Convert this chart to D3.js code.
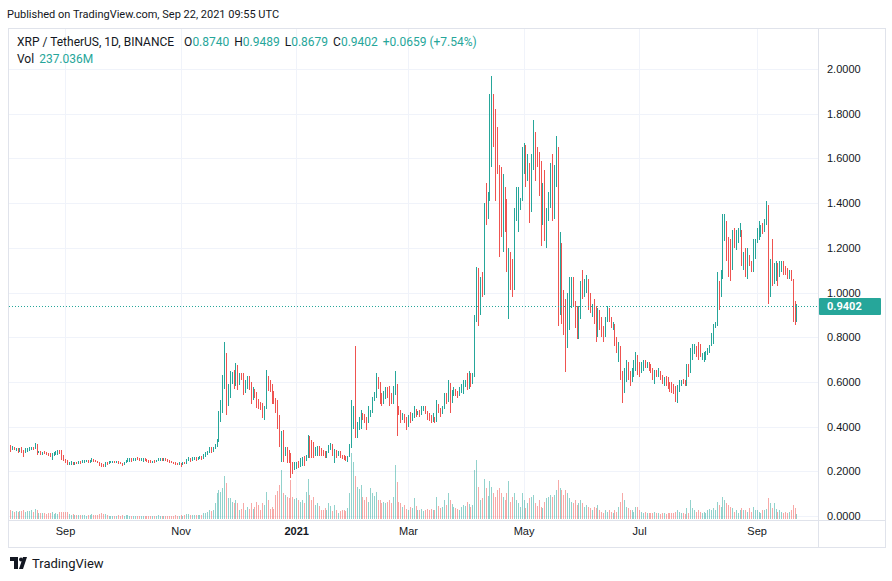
<!DOCTYPE html>
<html><head><meta charset="utf-8">
<script src="https://cdn.jsdelivr.net/npm/d3@7"></script>
<style>
body{margin:0;background:#fff;}
svg{display:block;font-family:Roboto,"DejaVu Sans",sans-serif;}
</style></head><body>
<svg id="c" width="892" height="581"></svg>
<script>
// ---- DATA: daily candles [high, low, close, volume(M)], open = previous close ----
const m2020_08 = [[0.318,0.285,0.297,430],[0.312,0.295,0.308,360],[0.310,0.296,0.300,330],[0.305,0.290,0.302,360],[0.303,0.280,0.288,330],[0.303,0.286,0.300,360],[0.307,0.284,0.292,360],[0.296,0.265,0.280,400],[0.303,0.280,0.298,340],[0.303,0.288,0.300,360],[0.307,0.292,0.305,360],[0.310,0.296,0.309,400],[0.310,0.296,0.302,340],[0.325,0.300,0.318,470],[0.320,0.273,0.285,440],[0.292,0.280,0.290,290],[0.292,0.273,0.282,260],[0.288,0.273,0.284,260],[0.290,0.276,0.280,260],[0.288,0.273,0.276,220],[0.283,0.268,0.272,260],[0.280,0.265,0.268,290],[0.280,0.250,0.276,330],[0.288,0.270,0.284,220],[0.290,0.272,0.286,260],[0.295,0.275,0.292,250],[0.296,0.278,0.282,340],[0.295,0.250,0.262,340],[0.273,0.245,0.252,340]];
const m2020_09 = [[0.257,0.236,0.240,340],[0.250,0.228,0.233,330],[0.240,0.226,0.236,250],[0.245,0.230,0.240,200],[0.243,0.226,0.230,230],[0.240,0.228,0.236,210],[0.243,0.233,0.234,180],[0.247,0.233,0.244,190],[0.245,0.231,0.237,170],[0.251,0.236,0.248,200],[0.251,0.238,0.249,180],[0.252,0.240,0.250,160],[0.251,0.236,0.240,190],[0.251,0.239,0.249,170],[0.258,0.243,0.256,230],[0.257,0.243,0.248,200],[0.251,0.240,0.243,180],[0.247,0.236,0.239,170],[0.243,0.225,0.230,240],[0.236,0.221,0.225,260],[0.232,0.219,0.222,220],[0.240,0.221,0.238,220],[0.243,0.228,0.234,170],[0.245,0.232,0.243,160],[0.245,0.235,0.244,150],[0.247,0.237,0.246,150],[0.247,0.236,0.240,140],[0.247,0.236,0.245,150],[0.246,0.231,0.236,170],[0.240,0.231,0.234,160]];
const m2020_10 = [[0.236,0.225,0.228,180],[0.240,0.226,0.238,160],[0.251,0.236,0.249,190],[0.258,0.240,0.254,170],[0.258,0.243,0.256,160],[0.258,0.243,0.248,150],[0.261,0.246,0.258,160],[0.261,0.248,0.259,140],[0.262,0.250,0.253,130],[0.258,0.248,0.251,130],[0.258,0.246,0.255,140],[0.258,0.243,0.256,150],[0.258,0.245,0.250,140],[0.254,0.241,0.246,150],[0.250,0.238,0.242,130],[0.249,0.237,0.240,120],[0.248,0.238,0.246,130],[0.249,0.236,0.241,140],[0.251,0.240,0.249,150],[0.258,0.246,0.256,170],[0.259,0.248,0.257,150],[0.258,0.245,0.249,140],[0.258,0.246,0.255,130],[0.258,0.245,0.250,140],[0.253,0.240,0.244,160],[0.249,0.237,0.240,150],[0.245,0.236,0.238,140],[0.243,0.234,0.236,150],[0.241,0.228,0.232,170],[0.237,0.226,0.230,160],[0.240,0.227,0.236,150]];
const m2020_11 = [[0.237,0.221,0.228,170],[0.240,0.226,0.238,160],[0.243,0.232,0.235,170],[0.254,0.234,0.250,230],[0.262,0.245,0.258,250],[0.260,0.242,0.248,200],[0.262,0.246,0.258,190],[0.264,0.250,0.262,210],[0.264,0.248,0.254,190],[0.265,0.250,0.262,200],[0.268,0.254,0.265,210],[0.268,0.250,0.256,200],[0.278,0.255,0.275,280],[0.285,0.265,0.282,300],[0.290,0.272,0.286,330],[0.310,0.284,0.305,420],[0.307,0.280,0.290,380],[0.310,0.285,0.305,420],[0.320,0.300,0.315,750],[0.345,0.310,0.335,1200],[0.470,0.330,0.440,1360],[0.520,0.420,0.480,1270],[0.630,0.460,0.600,1450],[0.780,0.570,0.680,2020],[0.730,0.450,0.520,1690],[0.590,0.490,0.570,990],[0.650,0.530,0.630,990],[0.645,0.590,0.640,800],[0.655,0.570,0.590,750],[0.683,0.580,0.665,890]];
const m2020_12 = [[0.676,0.565,0.590,750],[0.640,0.585,0.630,420],[0.640,0.610,0.615,470],[0.640,0.540,0.560,750],[0.610,0.550,0.600,420],[0.625,0.570,0.615,560],[0.625,0.565,0.580,470],[0.600,0.500,0.530,750],[0.575,0.520,0.565,470],[0.570,0.530,0.545,560],[0.555,0.485,0.500,800],[0.525,0.480,0.495,650],[0.510,0.475,0.480,420],[0.505,0.440,0.465,750],[0.490,0.430,0.480,650],[0.655,0.478,0.620,1270],[0.625,0.560,0.585,890],[0.610,0.555,0.570,470],[0.590,0.500,0.540,560],[0.560,0.500,0.515,470],[0.530,0.460,0.480,1130],[0.520,0.390,0.420,1300],[0.450,0.310,0.330,1600],[0.380,0.240,0.355,2300],[0.385,0.240,0.280,1200],[0.310,0.270,0.290,1130],[0.310,0.236,0.275,1050],[0.295,0.236,0.255,1000],[0.280,0.170,0.215,1830],[0.243,0.190,0.210,1050],[0.243,0.205,0.225,950]];
const m2021_01 = [[0.243,0.210,0.235,1000],[0.245,0.215,0.230,890],[0.258,0.220,0.245,800],[0.265,0.225,0.260,890],[0.270,0.222,0.250,750],[0.273,0.245,0.270,1270],[0.362,0.260,0.330,1900],[0.360,0.260,0.320,1130],[0.340,0.260,0.300,890],[0.330,0.260,0.280,1050],[0.310,0.270,0.305,650],[0.315,0.270,0.310,750],[0.315,0.270,0.290,600],[0.305,0.270,0.285,420],[0.295,0.270,0.280,400],[0.290,0.260,0.272,500],[0.290,0.260,0.285,420],[0.318,0.280,0.310,750],[0.325,0.295,0.318,600],[0.320,0.270,0.285,360],[0.300,0.236,0.290,650],[0.295,0.260,0.275,420],[0.290,0.270,0.285,300],[0.290,0.260,0.270,360],[0.275,0.255,0.265,400],[0.272,0.250,0.262,420],[0.270,0.245,0.255,380],[0.270,0.243,0.268,500],[0.320,0.265,0.310,1200],[0.520,0.305,0.440,3100],[0.490,0.390,0.480,2700]];
const m2021_02 = [[0.760,0.350,0.370,2000],[0.420,0.350,0.400,1520],[0.445,0.385,0.430,1400],[0.475,0.390,0.450,1600],[0.460,0.430,0.440,1050],[0.455,0.415,0.425,900],[0.445,0.385,0.420,1050],[0.490,0.415,0.470,800],[0.475,0.445,0.472,1440],[0.534,0.460,0.520,1200],[0.555,0.515,0.545,1100],[0.640,0.530,0.610,1280],[0.620,0.570,0.580,890],[0.600,0.500,0.530,890],[0.550,0.490,0.510,750],[0.560,0.500,0.545,800],[0.575,0.525,0.565,750],[0.575,0.530,0.545,800],[0.580,0.490,0.510,890],[0.550,0.500,0.502,750],[0.580,0.500,0.560,1050],[0.650,0.540,0.590,2540],[0.590,0.360,0.470,1750],[0.490,0.450,0.460,800],[0.475,0.415,0.430,750],[0.460,0.430,0.450,560],[0.455,0.415,0.425,650],[0.445,0.385,0.410,470]];
const m2021_03 = [[0.450,0.400,0.440,420],[0.467,0.415,0.430,560],[0.460,0.425,0.455,500],[0.490,0.440,0.475,970],[0.480,0.445,0.455,600],[0.470,0.450,0.465,420],[0.475,0.445,0.452,400],[0.490,0.450,0.480,470],[0.490,0.470,0.485,380],[0.490,0.455,0.465,420],[0.470,0.430,0.445,470],[0.460,0.425,0.435,420],[0.450,0.415,0.425,470],[0.460,0.420,0.440,420],[0.445,0.415,0.425,400],[0.520,0.420,0.500,1050],[0.500,0.460,0.475,600],[0.485,0.445,0.460,500],[0.490,0.455,0.485,560],[0.550,0.480,0.540,890],[0.550,0.500,0.510,650],[0.610,0.510,0.590,1200],[0.595,0.460,0.510,900],[0.565,0.505,0.550,700],[0.578,0.535,0.565,560],[0.570,0.535,0.545,500],[0.560,0.530,0.540,470],[0.578,0.535,0.570,420],[0.590,0.550,0.580,560],[0.610,0.545,0.595,650],[0.610,0.575,0.605,600]];
const m2021_04 = [[0.640,0.563,0.570,800],[0.650,0.570,0.630,700],[0.640,0.575,0.600,560],[0.640,0.590,0.625,650],[0.900,0.620,0.880,2300],[1.116,0.870,1.050,2770],[1.110,0.850,0.930,1520],[1.070,0.900,1.030,890],[1.090,0.980,1.000,1000],[1.400,0.990,1.350,1900],[1.490,1.300,1.330,1440],[1.450,1.330,1.420,1100],[1.890,1.410,1.820,1800],[1.970,1.560,1.850,1520],[1.890,1.650,1.720,1200],[1.820,1.410,1.620,1050],[1.740,1.530,1.570,1360],[1.570,1.160,1.400,1440],[1.560,1.250,1.320,1200],[1.530,1.180,1.450,1050],[1.470,1.270,1.320,890],[1.420,1.090,1.100,1200],[1.200,0.880,1.150,1800],[1.180,1.010,1.050,820],[1.150,0.980,1.030,1050],[1.380,1.010,1.330,1200],[1.470,1.320,1.350,890],[1.470,1.270,1.380,730],[1.425,1.370,1.420,580],[1.650,1.410,1.600,1200]];
const m2021_05 = [[1.670,1.530,1.640,890],[1.660,1.470,1.520,500],[1.620,1.500,1.580,730],[1.580,1.310,1.380,970],[1.620,1.360,1.600,1050],[1.770,1.550,1.720,1130],[1.720,1.500,1.620,730],[1.650,1.560,1.580,600],[1.630,1.430,1.460,890],[1.590,1.210,1.300,580],[1.490,1.300,1.450,500],[1.550,1.230,1.280,800],[1.380,1.200,1.350,970],[1.450,1.320,1.420,1050],[1.580,1.380,1.550,1130],[1.620,1.320,1.400,1050],[1.570,1.330,1.520,1130],[1.700,1.470,1.600,1360],[1.650,0.850,1.000,1830],[1.270,0.900,1.180,1440],[1.220,0.860,1.000,1360],[1.010,0.810,0.880,1130],[0.970,0.645,0.750,1360],[1.000,0.750,0.950,1200],[1.070,0.830,1.000,970],[1.070,0.930,1.040,800],[1.070,0.940,0.960,730],[0.960,0.840,0.880,890],[0.940,0.790,0.840,660],[0.940,0.790,0.900,730],[1.050,0.880,1.020,890]];
const m2021_06 = [[1.100,0.970,0.990,730],[1.060,0.980,1.040,580],[1.080,1.000,1.060,660],[1.060,0.920,0.960,580],[1.000,0.910,0.920,500],[0.950,0.890,0.940,420],[0.970,0.860,0.880,580],[0.940,0.780,0.820,500],[0.930,0.800,0.900,660],[0.920,0.830,0.860,420],[0.890,0.800,0.830,350],[0.850,0.780,0.810,280],[0.890,0.800,0.880,420],[0.940,0.870,0.920,350],[0.930,0.870,0.880,420],[0.890,0.840,0.850,340],[0.870,0.830,0.860,300],[0.860,0.760,0.790,420],[0.800,0.730,0.740,340],[0.780,0.690,0.760,580],[0.760,0.610,0.640,800],[0.650,0.505,0.580,1200],[0.660,0.550,0.640,890],[0.700,0.600,0.680,580],[0.690,0.610,0.640,500],[0.650,0.580,0.610,420],[0.660,0.600,0.640,420],[0.700,0.620,0.680,340],[0.735,0.650,0.710,580],[0.720,0.630,0.670,580]];
const m2021_07 = [[0.690,0.620,0.650,420],[0.690,0.640,0.670,340],[0.700,0.650,0.690,260],[0.700,0.660,0.675,340],[0.690,0.660,0.685,260],[0.690,0.650,0.665,260],[0.680,0.640,0.655,300],[0.660,0.610,0.620,260],[0.655,0.590,0.645,340],[0.655,0.620,0.630,260],[0.660,0.620,0.645,260],[0.650,0.610,0.620,240],[0.630,0.590,0.605,260],[0.620,0.580,0.610,260],[0.625,0.580,0.590,220],[0.620,0.570,0.580,260],[0.600,0.555,0.570,300],[0.600,0.550,0.560,260],[0.590,0.545,0.555,260],[0.580,0.510,0.530,340],[0.585,0.505,0.575,420],[0.610,0.556,0.600,350],[0.610,0.580,0.605,300],[0.615,0.590,0.595,280],[0.610,0.580,0.585,250],[0.680,0.580,0.670,500],[0.680,0.620,0.650,300],[0.750,0.640,0.740,890],[0.770,0.700,0.755,500],[0.770,0.725,0.765,420],[0.760,0.710,0.730,350]];
const m2021_08 = [[0.780,0.700,0.720,420],[0.770,0.710,0.715,350],[0.730,0.700,0.725,300],[0.735,0.690,0.730,330],[0.740,0.700,0.735,300],[0.750,0.720,0.745,420],[0.765,0.730,0.760,450],[0.820,0.760,0.810,400],[0.860,0.770,0.850,500],[0.870,0.840,0.860,420],[1.090,0.850,1.030,800],[1.050,0.920,0.980,650],[1.100,0.980,1.080,580],[1.350,1.060,1.270,1050],[1.350,1.230,1.300,890],[1.320,1.140,1.200,730],[1.250,1.070,1.120,650],[1.240,1.050,1.100,580],[1.280,1.100,1.250,500],[1.290,1.200,1.220,350],[1.280,1.190,1.270,420],[1.290,1.220,1.280,300],[1.310,1.250,1.300,420],[1.280,1.120,1.160,500],[1.180,1.100,1.170,420],[1.200,1.070,1.110,420],[1.200,1.060,1.160,350],[1.170,1.120,1.130,500],[1.140,1.090,1.100,350],[1.240,1.090,1.210,580],[1.240,1.150,1.230,420]];
const m2021_09 = [[1.290,1.220,1.270,420],[1.320,1.235,1.280,350],[1.300,1.250,1.290,300],[1.310,1.260,1.280,420],[1.330,1.270,1.310,400],[1.410,1.300,1.390,450],[1.390,0.950,1.080,970],[1.150,0.980,1.120,730],[1.240,1.030,1.070,500],[1.130,1.040,1.100,730],[1.140,1.050,1.120,450],[1.130,1.030,1.080,350],[1.140,1.070,1.120,420],[1.140,1.090,1.130,330],[1.140,1.080,1.110,300],[1.120,1.080,1.100,350],[1.110,1.060,1.080,300],[1.100,1.060,1.090,330],[1.100,1.050,1.060,420],[1.060,0.870,0.950,650],[0.960,0.855,0.874,500],[0.9489,0.8679,0.9402,237.036]];
const firstOpen = 0.305;
const firstDay = "2020-08-03";
const priceTicks = [0,0.2,0.4,0.6,0.8,1.0,1.2,1.4,1.6,1.8,2.0];
const timeTickDates = ["2020-09-01","2020-11-01","2021-01-01","2021-03-01","2021-05-01","2021-07-01","2021-09-01"];
const timeTickLabels = ["Sep","Nov","2021","Mar","May","Jul","Sep"];
const lastBar = {o:"0.8740", h:"0.9489", l:"0.8679", c:"0.9402", chg:"+0.0659 (+7.54%)", vol:"237.036M"};

// ---- BUILD ----
const UP = "#26a69a", DOWN = "#ef5350", TXT = "#131722";
const rows = [].concat(m2020_08,m2020_09,m2020_10,m2020_11,m2020_12,m2021_01,m2021_02,m2021_03,m2021_04,m2021_05,m2021_06,m2021_07,m2021_08,m2021_09);
const t0 = new Date(firstDay + "T00:00:00Z").getTime();
const data = rows.map((r,i)=>({date:new Date(t0 + i*864e5), high:r[0], low:r[1], close:r[2], vol:r[3]}));
data.forEach((d,i)=>{ d.open = i===0 ? firstOpen : data[i-1].close; d.up = d.close >= d.open; });

const svg = d3.select("#c");
const L = 8, R = 818, T = 28, B = 520, W = 892;

const x = d3.scaleUtc().domain([data[0].date, data[data.length-1].date]).range([10, 796.4]);
const y = d3.scaleLinear().domain([0,2]).range([516,69]);
const yv = d3.scaleLinear().domain([0,4700]).range([519,419]);

// frame
svg.append("rect").attr("x",L+0.5).attr("y",T+0.5).attr("width",886-L-1).attr("height",548-T-1)
  .attr("fill","none").attr("stroke","#e0e3eb");

// grid
const g = svg.append("g");
g.selectAll("line.h").data(priceTicks).join("line").attr("class","h")
  .attr("x1",L+1).attr("x2",R).attr("y1",d=>Math.round(y(d))+0.5).attr("y2",d=>Math.round(y(d))+0.5)
  .attr("stroke","#f0f3fa");
const tickDates = timeTickDates.map(s=>new Date(s+"T00:00:00Z"));
g.selectAll("line.v").data(tickDates).join("line").attr("class","v")
  .attr("x1",d=>Math.round(x(d))+0.5).attr("x2",d=>Math.round(x(d))+0.5).attr("y1",T+1).attr("y2",B)
  .attr("stroke","#f0f3fa");

svg.append("clipPath").attr("id","clip").append("rect").attr("x",L+1).attr("y",T+1).attr("width",R-L-1).attr("height",B-T-1);
const plot = svg.append("g").attr("clip-path","url(#clip)");

// volume
plot.append("g").selectAll("rect").data(data).join("rect")
  .attr("x",d=>Math.round(x(d.date))).attr("width",1)
  .attr("y",d=>yv(d.vol)).attr("height",d=>yv(0)-yv(d.vol))
  .attr("fill",d=>d.up?UP:DOWN).attr("fill-opacity",0.5).attr("shape-rendering","crispEdges");

// candles
plot.append("g").selectAll("rect").data(data).join("rect")
  .attr("x",d=>Math.round(x(d.date))).attr("width",1)
  .attr("y",d=>y(d.high)).attr("height",d=>Math.max(1,y(d.low)-y(d.high)))
  .attr("fill",d=>d.up?UP:DOWN).attr("shape-rendering","crispEdges");

// last price line
const last = data[data.length-1];
plot.append("line").attr("x1",L+1).attr("x2",R).attr("y1",Math.round(y(last.close))+0.5).attr("y2",Math.round(y(last.close))+0.5)
  .attr("stroke",UP).attr("stroke-dasharray","1,2");

// separators
svg.append("line").attr("x1",R+0.5).attr("x2",R+0.5).attr("y1",T).attr("y2",548).attr("stroke","#e0e3eb");
svg.append("line").attr("x1",L).attr("x2",886).attr("y1",B+0.5).attr("y2",B+0.5).attr("stroke","#e0e3eb");

// price axis
const ya = svg.append("g").attr("transform",`translate(${R},0)`)
  .call(d3.axisRight(y).tickValues(priceTicks).tickFormat(d3.format(".4f")).tickSize(0).tickPadding(9));
ya.select(".domain").remove();
ya.selectAll("text").attr("font-size",11).attr("fill",TXT).attr("font-family",null);

// price tag
svg.append("rect").attr("x",R+1).attr("y",Math.round(y(last.close))-8).attr("width",62).attr("height",17).attr("fill",UP).attr("rx",1);
svg.append("text").attr("x",R+9).attr("y",Math.round(y(last.close))+4).attr("fill","#fff")
  .attr("font-size",11).attr("font-weight","bold").text(d3.format(".4f")(last.close));

// time axis
const xa = svg.append("g").attr("transform",`translate(0,${B})`)
  .call(d3.axisBottom(x).tickValues(tickDates).tickFormat((d,i)=>timeTickLabels[i]).tickSize(0).tickPadding(7));
xa.select(".domain").remove();
xa.selectAll("text").attr("font-size",11).attr("fill",TXT).attr("font-family",null)
  .attr("font-weight",(d,i)=>timeTickLabels[i]==="2021"?"bold":null);

// header
svg.append("text").attr("x",7).attr("y",18).attr("font-size",11).attr("fill",TXT)
  .text("Published on TradingView.com, Sep 22, 2021 09:55 UTC");

const l1 = svg.append("text").attr("x",17).attr("y",46).attr("font-size",12).attr("fill",TXT);
l1.append("tspan").text("XRP / TetherUS, 1D, BINANCE");
[["O",lastBar.o],["H",lastBar.h],["L",lastBar.l],["C",lastBar.c]].forEach((p,i)=>{
  l1.append("tspan").attr("dx",i===0?10:5).attr("fill",TXT).text(p[0]);
  l1.append("tspan").attr("fill",UP).text(p[1]);
});
l1.append("tspan").attr("dx",5).attr("fill",UP).text(lastBar.chg);

const l2 = svg.append("text").attr("x",17).attr("y",63).attr("font-size",12).attr("fill",TXT);
l2.append("tspan").text("Vol");
l2.append("tspan").attr("dx",5).attr("fill",UP).text(lastBar.vol);

// footer logo
const lg = svg.append("g").attr("fill",TXT);
lg.append("path").attr("d","M10,557 h8 v12 h-4 v-8 h-4 z");
lg.append("circle").attr("cx",21).attr("cy",559.5).attr("r",2);
lg.append("path").attr("d","M23,569 l4,-12 h-4 l-4,12 z");
svg.append("text").attr("x",32).attr("y",568).attr("font-size",13).attr("fill",TXT).text("TradingView");
</script>
</body></html>
